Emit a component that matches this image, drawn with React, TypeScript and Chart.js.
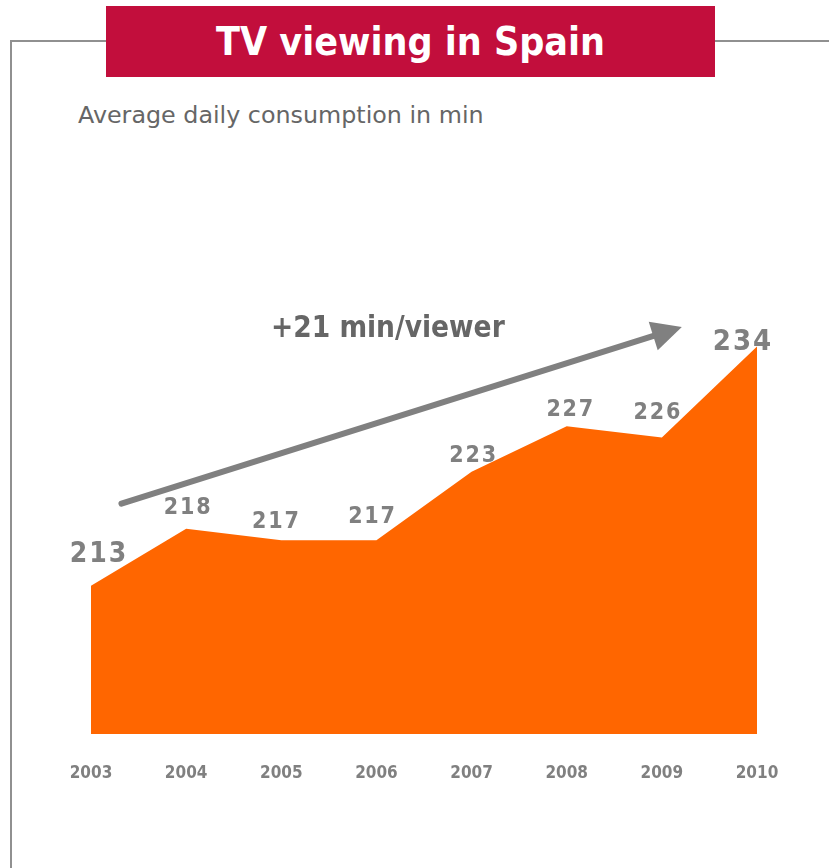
import React, { useEffect, useRef } from "react";
import { Chart, registerables } from "chart.js";

Chart.register(...registerables);

// ---- data ----
const years = ["2003", "2004", "2005", "2006", "2007", "2008", "2009", "2010"];
const minutes = [213, 218, 217, 217, 223, 227, 226, 234];
const titleText = "TV viewing in Spain";
const subtitleText = "Average daily consumption in min";
const arrowText = "+21 min/viewer";
// arrow start/end in data coordinates (category index, minutes)
const arrowStart = [0.32, 220.2];
const arrowEnd = [6.21, 235.7];
const arrowTextAt = [3.12, 235.5];
const yMin = 200;
const yMax = 240;

// ---- styling ----
const ORANGE = "#FF6600";
const GREY = "#808080";
const RED = "#C20E3C";
const FONT = "'DejaVu Sans Condensed', 'DejaVu Sans', sans-serif";
const FONT_REG = "'DejaVu Sans', sans-serif";
// per-label nudges [dx, dy, fontSize]
const labelStyle: [number, number, number][] = [
  [7, -31, 28],
  [1, -21, 23],
  [-6, -18, 23],
  [-5, -23, 23],
  [1, -16, 23],
  [3, -16, 23],
  [-5, -25, 23],
  [-15, -4, 29],
];

const overlayPlugin = {
  id: "overlay",
  afterDatasetsDraw(chart: any) {
    const ctx = chart.ctx as CanvasRenderingContext2D;
    const xs = chart.scales.x;
    const ys = chart.scales.y;
    const meta = chart.getDatasetMeta(0);
    ctx.save();
    // value labels
    ctx.fillStyle = GREY;
    ctx.textAlign = "center";
    ctx.textBaseline = "middle";
    meta.data.forEach((pt: any, i: number) => {
      const [dx, dy, fs] = labelStyle[i];
      ctx.font = `bold ${fs}px ${FONT}`;
      (ctx as any).letterSpacing = fs > 25 ? "2px" : "1.8px";
      ctx.fillText(String(minutes[i]), pt.x + dx + 1, pt.y + dy);
    });
    (ctx as any).letterSpacing = "0px";

    // arrow
    const x0 = xs.getPixelForValue(arrowStart[0]);
    const y0 = ys.getPixelForValue(arrowStart[1]);
    const x1 = xs.getPixelForValue(arrowEnd[0]);
    const y1 = ys.getPixelForValue(arrowEnd[1]);
    const ang = Math.atan2(y1 - y0, x1 - x0);
    const headLen = 30;
    const headHalf = 15;
    const bx = x1 - headLen * Math.cos(ang);
    const by = y1 - headLen * Math.sin(ang);
    ctx.strokeStyle = GREY;
    ctx.lineWidth = 6;
    ctx.lineCap = "round";
    ctx.beginPath();
    ctx.moveTo(x0, y0);
    ctx.lineTo(bx + 2 * Math.cos(ang), by + 2 * Math.sin(ang));
    ctx.stroke();
    ctx.fillStyle = GREY;
    ctx.beginPath();
    ctx.moveTo(x1, y1);
    ctx.lineTo(bx + headHalf * Math.sin(ang), by - headHalf * Math.cos(ang));
    ctx.lineTo(bx - headHalf * Math.sin(ang), by + headHalf * Math.cos(ang));
    ctx.closePath();
    ctx.fill();

    // arrow text
    ctx.fillStyle = "#666666";
    ctx.font = `bold 29.5px ${FONT}`;
    ctx.fillText(
      arrowText,
      xs.getPixelForValue(arrowTextAt[0]),
      ys.getPixelForValue(arrowTextAt[1])
    );
    ctx.restore();
  },
};

export default function App() {
  const ref = useRef<HTMLCanvasElement | null>(null);
  useEffect(() => {
    if (!ref.current) return;
    const chart = new Chart(ref.current, {
      type: "line",
      data: {
        labels: years,
        datasets: [
          {
            data: minutes,
            fill: "start",
            backgroundColor: ORANGE,
            borderColor: ORANGE,
            borderWidth: 0,
            pointRadius: 0,
            tension: 0,
          },
        ],
      },
      options: {
        responsive: false,
        animation: false,
        layout: { padding: { left: 91, right: 72, top: 278, bottom: 0 } },
        plugins: { legend: { display: false }, tooltip: { enabled: false }, title: { display: false } },
        scales: {
          x: {
            offset: false,
            border: { display: false },
            grid: { display: false, drawTicks: false },
            ticks: {
              color: GREY,
              font: { family: FONT, size: 17, weight: "bold" },
              padding: 29,
              maxRotation: 0,
              autoSkip: false,
            },
            afterFit: (scale: any) => {
              scale.height = 868 - 734;
            },
          },
          y: {
            display: false,
            min: yMin,
            max: yMax,
          },
        },
      },
      plugins: [overlayPlugin],
    });
    return () => chart.destroy();
  }, []);

  return (
    <div style={{ position: "absolute", left: 0, top: 0, width: 829, height: 868, background: "#fff", overflow: "hidden" }}>
      <div style={{ position: "absolute", left: 10, top: 40, width: 819, height: 2, background: "#909090" }} />
      <div style={{ position: "absolute", left: 10, top: 40, width: 2, height: 828, background: "#909090" }} />
      <div
        style={{
          position: "absolute",
          left: 106,
          top: 6,
          width: 609,
          height: 71,
          background: RED,
          color: "#fff",
          fontFamily: FONT,
          fontWeight: "bold",
          fontSize: 39,
          lineHeight: "71px",
          textAlign: "center",
        }}
      >
        {titleText}
      </div>
      <div
        style={{
          position: "absolute",
          left: 78,
          top: 100,
          color: "#666666",
          fontFamily: FONT_REG,
          fontSize: 23.8,
          lineHeight: "30px",
          whiteSpace: "nowrap",
        }}
      >
        {subtitleText}
      </div>
      <canvas ref={ref} width={829} height={868} style={{ position: "absolute", left: 0, top: 0, display: "block" }} />
    </div>
  );
}
